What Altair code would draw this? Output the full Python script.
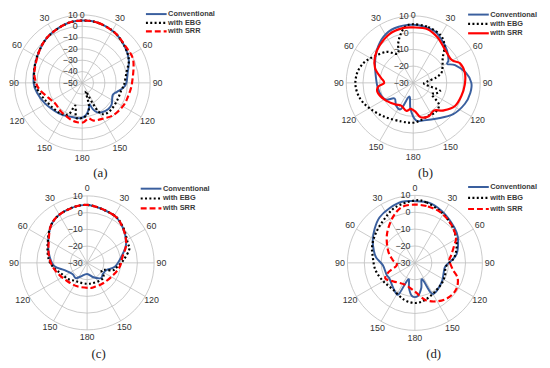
import altair as alt
import pandas as pd

# ---------------- data (angle in degrees clockwise from 0, value in dB) ----------------
SERIES = ["Conventional", "with EBG", "with SRR"]

A_CONV_ANG = [0, 15, 33, 50, 64, 78, 90, 97, 105, 112, 126, 135, 146, 153, 158, 161, 166, 174, 183, 193, 212, 225, 242, 258, 270, 289, 308, 325, 345]
A_CONV_DB = [5, 4.8, 2.8, -0.7, -4.2, -9, -11, -13.5, -18.5, -21, -17.8, -17.3, -18.7, -20.8, -25, -30, -26, -21, -18.7, -18.7, -16.7, -15.2, -12.3, -9.1, -7.1, -5.6, -2.5, 1, 4]
A_EBG_ANG = [0, 15, 33, 50, 64, 76, 92, 100, 115, 132, 144, 150, 153, 157, 163, 170, 180, 190, 197, 203, 215, 230, 245, 258, 270, 289, 308, 325, 345]
A_EBG_DB = [5, 4.8, 2.8, -0.7, -4.2, -9.6, -12.9, -14.8, -15.5, -15.2, -16, -20, -30, -42, -30, -22, -19, -19, -29, -20, -17, -16, -14, -11, -8, -5.6, -2.5, 1, 4]
A_SRR_ANG = [0, 15, 33, 50, 66, 90, 106, 119, 136, 151, 163, 170, 178, 187, 197, 216, 232, 246, 261, 272, 285, 308, 325, 345]
A_SRR_DB = [5, 4.8, 2.8, 0, -0.7, -6, -7.8, -8.5, -10.4, -13.7, -15.2, -18, -15.2, -15, -16, -18.5, -20, -17.5, -11.9, -8.8, -6.5, -2.5, 1, 4]

B_CONV_ANG = [0, 21, 34, 46, 57, 61, 67, 79, 90, 100, 112, 128, 146, 164, 176, 186, 196, 205, 217, 230, 238, 248, 262, 280, 297, 312, 327, 341]
B_CONV_DB = [4.7, 3.5, 0.6, -2, -4.9, -6.8, -2.9, 2, 4.7, 4.6, 3.3, 0.3, -4.3, -6.7, -7.6, -14.3, -21.5, -12.8, -13, -15.5, -11.1, -9.5, -8.6, -7.3, -4.4, -0.8, 2.7, 4.5]
B_EBG_ANG = [0, 15, 30, 40, 50, 61, 70, 77, 86, 97, 106, 115, 122, 130, 143, 157, 169, 181, 197, 220, 239, 253, 267, 280, 292, 303, 319, 332, 339, 345, 352]
B_EBG_DB = [5, 4.5, 2.8, -1, -7, -10, -12, -16, -22, -23, -13.5, -15, -17, -10, -8, -8.4, -7.2, -6.2, -5.9, -3.5, 0, 3, 4.5, 4, 1.9, -1.5, -5.5, -10.2, -4.9, -0.3, 4]
B_SRR_ANG = [0, 15, 28, 40, 59, 67, 79, 92, 105, 119, 132, 143, 155, 168, 175, 185, 194, 208, 221, 239, 255, 264, 270, 279, 291, 304, 318, 334, 349]
B_SRR_DB = [3.1, 3.2, 0.8, -1.9, -3.3, 0.2, 1.4, 0.8, -0.2, -1.5, -5.4, -9.4, -8, -9, -12.5, -14.4, -12.8, -14.6, -13.1, -10.3, -8, -9, -12.7, -10.5, -5.6, -2.4, 0, 2.4, 3.3]

C_CONV_ANG = [0, 28, 45, 64, 80, 98, 110, 125, 138, 156, 180, 205, 217, 233, 252, 264, 279, 296, 317, 336]
C_CONV_DB = [4.6, 2.7, 0, -4.1, -9.3, -13.3, -17.6, -18.5, -17.7, -20.6, -23.4, -21, -18.6, -19, -15.8, -10.4, -7.4, -4.1, 1.3, 3.6]
C_EBG_ANG = [0, 28, 45, 64, 72, 85, 98, 106, 112, 120, 130, 145, 165, 180, 200, 215, 230, 248, 260, 275, 296, 317, 336]
C_EBG_DB = [4.6, 2.7, 0.3, -3, -3.5, -8, -12, -14, -19, -20, -17, -17, -17.5, -17.5, -17.5, -17, -15, -13.2, -10.3, -7, -3.8, 1.3, 3.6]
C_SRR_ANG = [0, 28, 45, 64, 80, 97, 115, 141, 165, 176, 203, 227, 246, 263, 279, 296, 317, 336]
C_SRR_DB = [4.6, 2.7, 0, -4, -8.5, -10.4, -12.8, -14.5, -14.9, -15, -14.8, -13.9, -12, -9.4, -7, -4.4, 1.3, 3.6]

D_CONV_ANG = [0, 13, 27, 40, 54, 64, 78, 86, 97, 110, 125, 145, 152, 156, 166, 175, 185, 193, 202, 207, 212, 223, 239, 247, 266, 278, 287, 298, 310, 322, 335, 348]
D_CONV_DB = [6.6, 6.6, 4.7, 2.5, 0.6, -1.5, -4.7, -8.2, -11.9, -11.9, -10.5, -8.7, -10, -19.4, -14.5, -10.3, -10.3, -14.5, -19.5, -9.6, -8.8, -10.7, -12.3, -11.8, -10.9, -6.8, -4.5, -1.7, 1.2, 4.1, 5.7, 7]
D_EBG_ANG = [0, 11, 28, 45, 58, 71, 84, 97, 112, 127, 145, 164, 179, 196, 220, 241, 260, 278, 292, 308, 325, 341]
D_EBG_DB = [7, 6.4, 3.8, 1, -1.4, -3.9, -7, -11.5, -10.7, -10, -9.2, -7.3, -6.2, -7.2, -9.5, -8.2, -6.2, -4.8, -2.7, -0.8, 1.6, 5]
D_SRR_ANG = [0, 13, 27, 43, 58, 66, 78, 86, 100, 110, 123, 137, 151, 165, 180, 204, 229, 242, 251, 263, 278, 295, 316, 334, 347]
D_SRR_DB = [4.5, 4.3, 3.6, 1.4, -1.3, -4.5, -8, -9.5, -7.2, -3, -0.9, -1.5, -3.9, -7.4, -13, -15.8, -13.2, -10.2, -13.6, -19.2, -16.6, -12.4, -6.2, 0, 4]

SPOKE_ANGLES = [0, 30, 60, 90, 120, 150, 180, 210, 240, 270, 300, 330]
SPOKE_LABELS = ["0", "30", "60", "90", "120", "150", "180", "150", "120", "90", "60", "30"]
RING_A = [-50, -40, -30, -20, -10, 0, 10]
RING_BCD = [-30, -20, -10, 0, 10]
CAPTIONS = ["(a)", "(b)", "(c)", "(d)"]

# ---------------- layout / style ----------------
W, H = 542, 358
XS = alt.Scale(domain=[0, W], nice=False, zero=False)
YS = alt.Scale(domain=[0, H], nice=False, zero=False, reverse=True)
FONT = "Liberation Sans"
TXT = "#333333"
GRID = "#bdbdbd"
BLUE = "#3a5f9e"
RED = "#ff0000"

PANELS = [
    dict(cx=75.3, cy=73.3, R=69, lo=-50, hi=10, rings=RING_A,
         series=[(A_CONV_ANG, A_CONV_DB), (A_EBG_ANG, A_EBG_DB), (A_SRR_ANG, A_SRR_DB)],
         leg_x=140, leg_rows=[3.5, 12.5, 21], cap=(93.7, 164.7), srr_solid=False),
    dict(cx=411.3, cy=73.3, R=68, lo=-30, hi=10, rings=RING_BCD,
         series=[(B_CONV_ANG, B_CONV_DB), (B_EBG_ANG, B_EBG_DB), (B_SRR_ANG, B_SRR_DB)],
         leg_x=467, leg_rows=[4, 13.5, 23], cap=(423.7, 164.7), srr_solid=True),
    dict(cx=80.3, cy=256, R=68, lo=-30, hi=10, rings=RING_BCD,
         series=[(C_CONV_ANG, C_CONV_DB), (C_EBG_ANG, C_EBG_DB), (C_SRR_ANG, C_SRR_DB)],
         leg_x=134.7, leg_rows=[180.7, 190.7, 200.7], cap=(92, 348.7), srr_solid=False),
    dict(cx=413, cy=256, R=68.5, lo=-30, hi=10, rings=RING_BCD,
         series=[(D_CONV_ANG, D_CONV_DB), (D_EBG_ANG, D_EBG_DB), (D_SRR_ANG, D_SRR_DB)],
         leg_x=467, leg_rows=[179, 190, 201.3], cap=(432, 348.7), srr_solid=False),
]


def style_for(name, solid_srr):
    if name == "Conventional":
        return dict(color=BLUE, strokeWidth=2.0)
    if name == "with EBG":
        return dict(color="black", strokeWidth=2.2, strokeDash=[2, 2.4])
    if solid_srr:
        return dict(color=RED, strokeWidth=2.2)
    return dict(color=RED, strokeWidth=2.2, strokeDash=[6, 3])


def xy(p, rexpr, aexpr):
    sx = f"{p['cx']} + ({rexpr}) * sin(({aexpr}) * PI / 180)"
    sy = f"{p['cy']} - ({rexpr}) * cos(({aexpr}) * PI / 180)"
    return sx, sy


def rad_expr(p, field):
    return f"{p['R']} * (max({field}, {p['lo']}) - {p['lo']}) / {p['hi'] - p['lo']}"


layers = []
for k, p in enumerate(PANELS):
    # rings
    rings = pd.DataFrame({"v": [v for v in p["rings"] if v > p["lo"]]})
    layers.append(
        alt.Chart(rings).transform_calculate(
            sz=f"pow(2 * ({rad_expr(p, 'datum.v')}), 2)", px=f"{p['cx']}", py=f"{p['cy']}"
        ).mark_point(shape="circle", filled=False, color=GRID, strokeWidth=0.8, opacity=1).encode(
            x=alt.X("px:Q", scale=XS, axis=None),
            y=alt.Y("py:Q", scale=YS, axis=None),
            size=alt.Size("sz:Q", scale=None),
        )
    )
    # spokes
    sp = pd.DataFrame({"a": SPOKE_ANGLES, "lab": SPOKE_LABELS})
    ex, ey = xy(p, f"{p['R']}", "datum.a")
    layers.append(
        alt.Chart(sp).transform_calculate(px=f"{p['cx']}", py=f"{p['cy']}", px2=ex, py2=ey)
        .mark_rule(color=GRID, strokeWidth=0.8).encode(
            x=alt.X("px:Q", scale=XS, axis=None), y=alt.Y("py:Q", scale=YS, axis=None),
            x2="px2:Q", y2="py2:Q")
    )
    # angle labels (kept inside the drawing area)
    lx, ly = xy(p, f"{p['R'] + 7.5}", "datum.a")
    layers.append(
        alt.Chart(sp).transform_calculate(px=f"max({lx}, 6)", py=f"max({ly}, 4)")
        .mark_text(font=FONT, fontSize=9, color=TXT, align="center", baseline="middle").encode(
            x=alt.X("px:Q", scale=XS, axis=None), y=alt.Y("py:Q", scale=YS, axis=None), text="lab:N")
    )
    # ring labels
    rl = pd.DataFrame({"v": p["rings"]})
    layers.append(
        alt.Chart(rl).transform_calculate(
            px=f"{p['cx'] - 4.5}", py=f"{p['cy']} - ({rad_expr(p, 'datum.v')})", lab="format(datum.v, 'd')")
        .mark_text(font=FONT, fontSize=9, color=TXT, align="right", baseline="middle").encode(
            x=alt.X("px:Q", scale=XS, axis=None), y=alt.Y("py:Q", scale=YS, axis=None), text="lab:N")
    )
    # series curves
    for name, (angs, dbs) in zip(SERIES, p["series"]):
        df = pd.DataFrame({"ang": angs, "db": dbs, "i": range(len(angs))})
        cx_, cy_ = xy(p, rad_expr(p, "datum.db"), "datum.ang")
        layers.append(
            alt.Chart(df).transform_calculate(px=cx_, py=cy_)
            .mark_line(interpolate="cardinal-closed", **style_for(name, p["srr_solid"])).encode(
                x=alt.X("px:Q", scale=XS, axis=None), y=alt.Y("py:Q", scale=YS, axis=None),
                order="i:Q")
        )
    # legend
    for name, yrow in zip(SERIES, p["leg_rows"]):
        st = style_for(name, p["srr_solid"])
        layers.append(
            alt.Chart(pd.DataFrame({"s": [name]})).mark_rule(**st).encode(
                x=alt.value(p["leg_x"]), x2=alt.value(p["leg_x"] + 21), y=alt.value(yrow))
        )
        layers.append(
            alt.Chart(pd.DataFrame({"s": [name]})).mark_text(
                font=FONT, fontSize=7.5, fontWeight="bold", color="#3a3a3a", align="left", baseline="middle"
            ).encode(x=alt.value(p["leg_x"] + 22.5), y=alt.value(yrow), text="s:N")
        )
    # caption
    layers.append(
        alt.Chart(pd.DataFrame({"c": [CAPTIONS[k]]})).mark_text(
            font="Liberation Serif", fontSize=13, color="#222222", align="center", baseline="middle"
        ).encode(x=alt.value(p["cap"][0]), y=alt.value(p["cap"][1]), text="c:N")
    )

chart = alt.layer(*layers).properties(
    width=W, height=H, padding=0, autosize=alt.AutoSizeParams(type="none")
).configure_view(stroke=None)

chart.save("out.html", embed_options={"renderer": "svg", "actions": False})
